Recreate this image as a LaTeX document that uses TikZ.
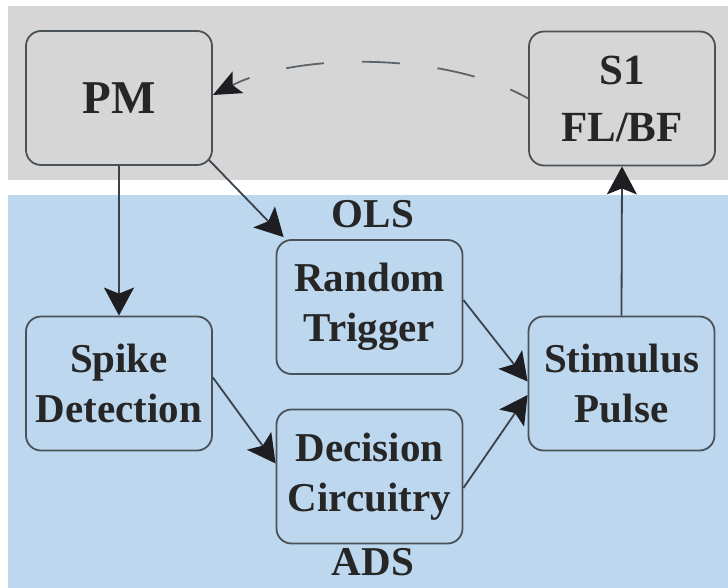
\documentclass[tikz,border=0pt]{standalone}
\usepackage{fontspec}
\setmainfont{LiberationSerif}[Extension=.ttf, UprightFont=*-Regular,
  BoldFont=*-Bold, ItalicFont=*-Italic, BoldItalicFont=*-BoldItalic]
\usetikzlibrary{arrows.meta,calc}
\definecolor{bandgray}{HTML}{D6D6D6}
\definecolor{bandblue}{HTML}{BDD7EE}
\definecolor{edge}{HTML}{4A5258}
\definecolor{wire}{HTML}{3A434B}
\definecolor{tipc}{HTML}{1E1E22}
\tikzset{
  blk/.style={draw=edge, line width=1.8pt, rounded corners=15pt,
    minimum width=186pt, minimum height=134pt, align=center,
    inner sep=0pt, font=\bfseries\fontsize{41}{50}\selectfont, text=black!85},
  arr/.style={draw=wire, line width=1.8pt,
    -{Stealth[length=28pt, width=30pt, inset=6pt, color=tipc, fill=tipc]}},
  fb/.style={draw=edge!90, line width=1.8pt,
    dash pattern=on 38pt off 38pt, dash phase=18pt,
    -{Stealth[length=28pt, width=24pt, inset=6pt, color=tipc, fill=tipc]}},
  tag/.style={font=\bfseries\fontsize{41}{50}\selectfont, text=black!85}
}
\begin{document}
\begin{tikzpicture}[x=1pt, y=-1pt]
  % canvas and the two shaded bands
  \fill[white] (0,0) rectangle (728,588);
  \useasboundingbox (0,0) rectangle (728,588);
  \fill[bandgray] (8,6) rectangle (728,180);
  \fill[bandblue] (8,195) rectangle (728,588);

  % blocks
  \node[blk, font=\bfseries\fontsize{47}{50}\selectfont] (pm) at (119,98) {PM};
  \node[blk, font=\bfseries\fontsize{43}{57}\selectfont] (s1) at (622,98.5) {S1\\FL/BF};
  \node[blk] (spike) at (119,383.5) {Spike\\Detection};
  \node[blk] (rt) at (369.5,307) {Random\\Trigger};
  \node[blk] (dc) at (369.5,476.5) {Decision\\Circuitry};
  \node[blk] (stim) at (621.5,383.5) {Stimulus\\Pulse};

  % labels of the two paths
  \node[tag] (ols) at (373,214) {OLS};
  \node[tag] (ads) at (373,562) {ADS};

  % connectors
  \draw[arr] (pm.south) -- (spike.north);
  \draw[arr] ($(pm.south east)+(-4,-6)$) -- ($(rt.north west)+(8,-2)$);
  \draw[arr] ($(spike.east)+(0,-6)$) -- ($(dc.west)+(0,-13)$);
  \draw[arr] ($(rt.east)+(0,-7)$) -- ($(stim.west)+(0,-2)$);
  \draw[arr] ($(dc.east)+(0,11.5)$) -- ($(stim.west)+(0,11.5)$);
  \draw[arr] (stim.north) -- (s1.south);

  % dashed feedback from S1 back to PM
  \draw[fb] (s1.west) .. controls (447,52) and (298,52) .. ($(pm.east)+(0,-3)$);
\end{tikzpicture}
\end{document}
